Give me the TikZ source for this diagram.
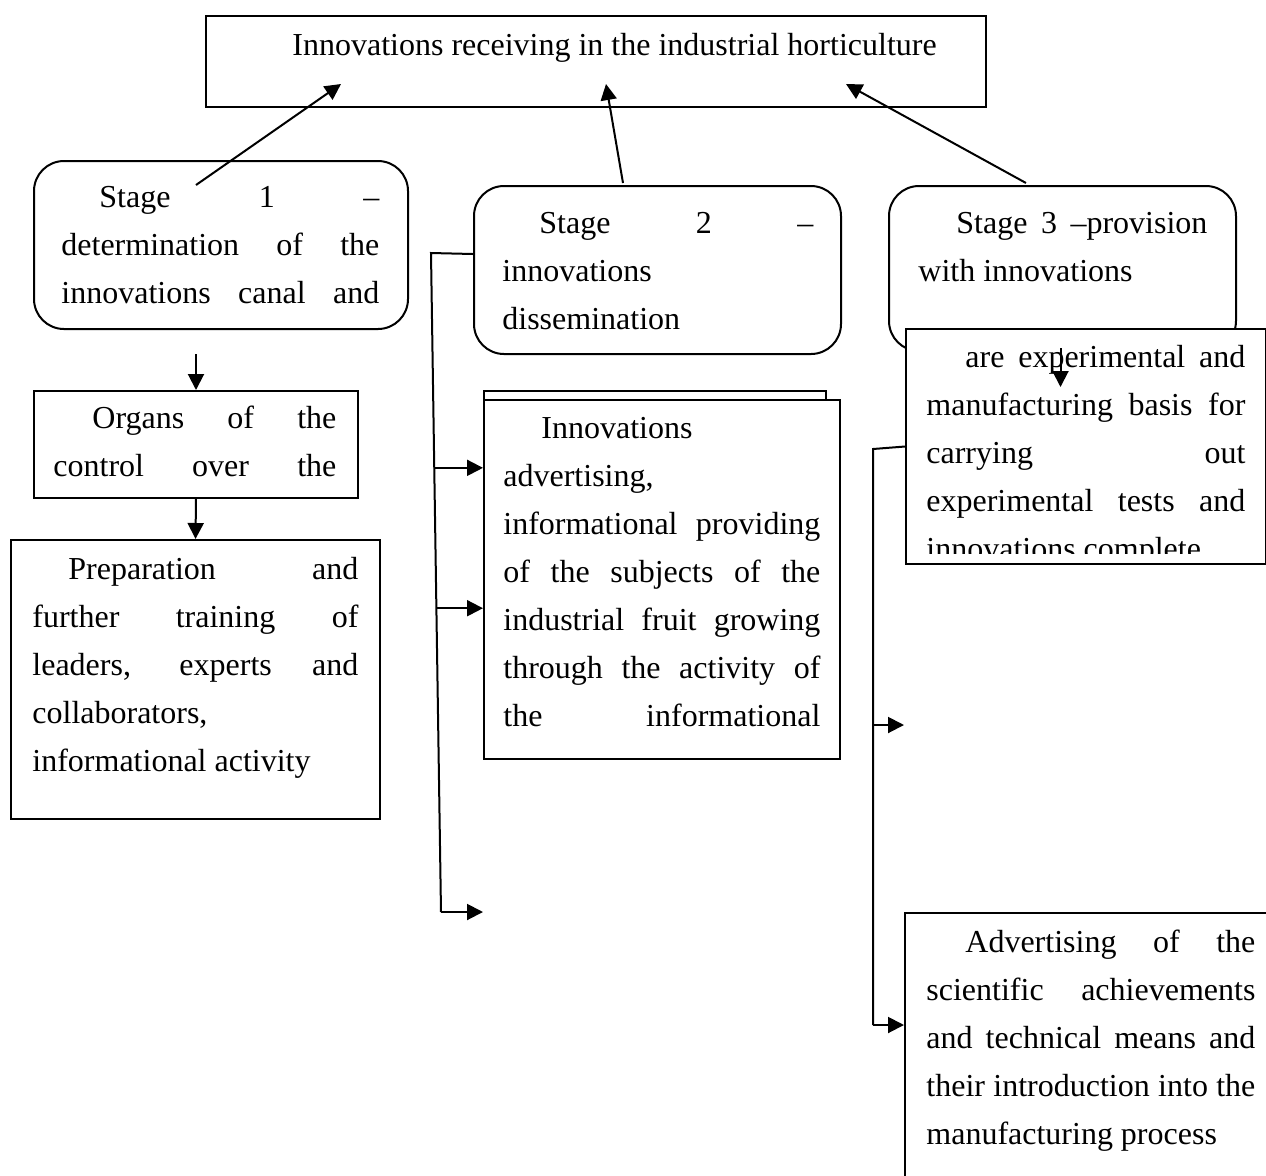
\documentclass[tikz,border=0pt]{standalone}
\usepackage{fontspec}
\setmainfont{Liberation Serif}
\usetikzlibrary{arrows.meta,calc}
\newcommand{\jline}[2]{\makebox[#1][s]{#2}}

\begin{document}
\begin{tikzpicture}[x=0.5pt, y=-0.5pt,
        box/.style={rectangle, draw=black, line width=1pt, fill=white, anchor=north west, inner sep=0pt},
        stagebox/.style={box, rounded corners=15pt},
        txt/.style={anchor=north west, inner sep=0pt, align=left, font=\fontsize{16}{24}\selectfont},
        arr/.style={line width=1pt, -{Triangle[length=8pt,width=8pt]}},
        link/.style={line width=1pt}
    ]
        \clip (0,0) rectangle (1266,1175);
        % boxes
        \node[box, minimum width=390pt, minimum height=45.5pt] (top) at (205,15) {};
        \node[stagebox, minimum width=187pt, minimum height=84pt] (s1) at (33,160) {};
        \node[stagebox, minimum width=183.5pt, minimum height=84pt] (s2) at (473,185) {};
        \node[stagebox, minimum width=173.5pt, minimum height=82.5pt] (s3) at (888,185) {};
        \node[box, minimum width=180pt, minimum height=117.5pt] (ex) at (905,328) {};
        \node[box, minimum width=162pt, minimum height=53.5pt] (org) at (33,390) {};
        \node[box, minimum width=184.5pt, minimum height=139.5pt] (prep) at (10,539) {};
        \node[box, minimum width=171pt, minimum height=50pt] (advback) at (483,390) {};
        \node[box, minimum width=178pt, minimum height=179.5pt] (adv) at (483,399) {};
        \node[box, minimum width=200pt, minimum height=150pt] (ad) at (904,912) {};
        % texts
        \node[txt, anchor=base west] (toptxt) at (292,55) {Innovations receiving in the industrial horticulture};
        \node[txt] (s1txt) at (61,173.4) {\jline{159pt}{\strut\hspace*{19pt}Stage 1 --}\\
            \jline{159pt}{determination of the}\\
            \jline{159pt}{innovations canal and}};
        \node[txt] (s2txt) at (502,199.4) {\jline{155.5pt}{\strut\hspace*{18.5pt}Stage 2 --}\\
            innovations\\
            dissemination};
        \node[txt] (s3txt) at (918,199.4) {\jline{144.5pt}{\strut\hspace*{19pt}Stage 3 --provision}\\
            with innovations};
        \node[txt] (orgtxt) at (53,394.4) {\jline{141.5pt}{\strut\hspace*{19.5pt}Organs of the}\\
            \jline{141.5pt}{control over the}};
        \node[txt] (preptxt) at (32,545.4) {\jline{163pt}{\strut\hspace*{18pt}Preparation and}\\
            \jline{163pt}{further training of}\\
            \jline{163pt}{leaders, experts and}\\
            collaborators,\\
            informational activity};
        \node[txt] (advtxt) at (503,404.4) {\strut\hspace*{19pt}Innovations\\
            advertising,\\
            \jline{158.5pt}{informational providing}\\
            \jline{158.5pt}{of the subjects of the}\\
            \jline{158.5pt}{industrial fruit growing}\\
            \jline{158.5pt}{through the activity of}\\
            \jline{158.5pt}{the informational}};
        \begin{scope}
            \clip (905,328) rectangle (1266,553);
            \node[txt] (extxt) at (926,333.4) {\jline{159.5pt}{\strut\hspace*{19.5pt}are experimental and}\\
                \jline{159.5pt}{manufacturing basis for}\\
                \jline{159.5pt}{carrying out}\\
                \jline{159.5pt}{experimental tests and}\\
                innovations complete};
        \end{scope}
        \node[txt] (adtxt) at (926,918.4) {\jline{164.5pt}{\strut\hspace*{19.5pt}Advertising of the}\\
            \jline{164.5pt}{scientific achievements}\\
            \jline{164.5pt}{and technical means and}\\
            \jline{164.5pt}{their introduction into the}\\
            manufacturing process};
        % arrows to the top box
        \draw[arr] ([xshift=-12.5pt,yshift=-12.5pt]s1.north) -- ([xshift=-127.5pt,yshift=12pt]top.south);
        \draw[arr] ([xshift=-17.25pt,yshift=1pt]s2.north) -- ([xshift=5pt,yshift=12pt]top.south);
        \draw[arr] ([xshift=-18.25pt,yshift=1pt]s3.north) -- ([xshift=125pt,yshift=12pt]top.south);
        % left column
        \draw[arr] ([xshift=-12.5pt,yshift=-12pt]s1.south) -- (org.north);
        \draw[arr] (org.south) -- (prep.north);
        % middle column
        \coordinate (m1) at (431,253);
        \coordinate (m2) at (441,912);
        \coordinate (j1) at ($(m1)!0.326!(m2)$);
        \coordinate (j2) at ($(m1)!0.539!(m2)$);
        \draw[link] ([yshift=8pt]s2.west) -- (m1) -- (m2);
        \draw[arr] (j1) -- (j1 -| adv.west);
        \draw[arr] (j2) -- (j2 -| adv.west);
        \draw[arr] (m2) -- (m2 -| adv.west);
        % right column
        \draw[arr] ([xshift=-12.75pt,yshift=-10pt]ex.north) -- ([xshift=-12.75pt,yshift=-29.5pt]ex.north);
        \coordinate (r0) at (873,449);
        \coordinate (r1) at (873,725);
        \coordinate (r2) at (873,1025);
        \draw[link] (ex.west) -- (r0) -- (r2);
        \draw[arr] (r1) -- (r1 -| ad.west);
        \draw[arr] (r2) -- (r2 -| ad.west);
    \end{tikzpicture}
\end{document}
